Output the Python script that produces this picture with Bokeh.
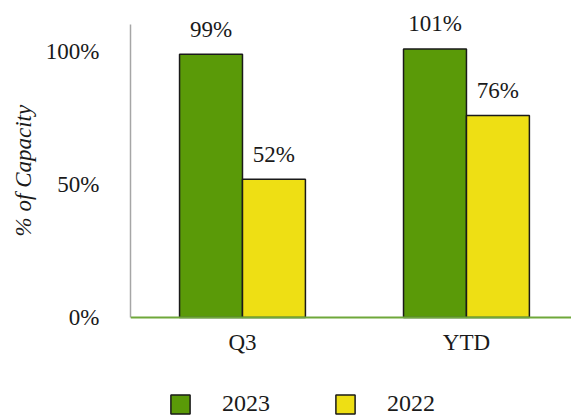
import numpy as np
from bokeh.plotting import figure
from bokeh.models import (FixedTicker, Legend, LegendItem, ColumnDataSource,
                          Range1d, Span)
from bokeh.core.properties import value
from bokeh.embed import file_html
from bokeh.resources import INLINE

categories = ["Q3", "YTD"]
series_names = ["2023", "2022"]
values_2023 = [99, 101]
values_2022 = [52, 76]
y_ticks = [0, 50, 100]
y_tick_labels = ["0%", "50%", "100%"]
y_axis_top = 110.2
y_title = "% of Capacity"

GREEN = "#5a9a08"
YELLOW = "#eedf14"
FONT = "Liberation Serif"
TXT = "#1a1a1a"
FS = "23px"

p = figure(width=571, height=415, output_backend="svg", toolbar_location=None,
           x_range=Range1d(0, 1.969), y_range=Range1d(-36.8, 119.2),
           min_border_left=130, min_border_right=0, min_border_top=0,
           min_border_bottom=0)
p.outline_line_color = None
p.xgrid.visible = False
p.ygrid.visible = False
p.xaxis.visible = False

pos = np.arange(len(categories)) + 0.5
bw = 0.281
src23 = ColumnDataSource(dict(x=pos - bw / 2, top=values_2023,
                              lab=[f"{v}%" for v in values_2023]))
src22 = ColumnDataSource(dict(x=pos + bw / 2, top=values_2022,
                              lab=[f"{v}%" for v in values_2022]))

r23 = p.vbar(x="x", top="top", width=bw, source=src23, fill_color=GREEN,
             line_color=TXT, line_width=1.5)
r22 = p.vbar(x="x", top="top", width=bw, source=src22, fill_color=YELLOW,
             line_color=TXT, line_width=1.5)

for s in (src23, src22):
    p.text(x="x", y="top", text="lab", source=s, text_align="center",
           text_baseline="alphabetic", y_offset=-25, text_font=value(FONT),
           text_font_size=FS, text_color=TXT)

# x axis: line at zero plus category labels
p.add_layout(Span(location=0, dimension="width", line_color="#6fa83a",
                  line_width=2))
p.text(x=pos, y=[0] * len(pos), text=categories, text_align="center",
       text_baseline="alphabetic", y_offset=25, text_font=value(FONT),
       text_font_size=FS, text_color=TXT)

# y axis
p.yaxis.ticker = FixedTicker(ticks=y_ticks)
p.yaxis.bounds = (0, y_axis_top)
p.yaxis.major_label_overrides = {t: l for t, l in zip(y_ticks, y_tick_labels)}
p.yaxis.axis_line_color = "#a6a6a6"
p.yaxis.axis_line_width = 1.5
p.yaxis.major_tick_line_color = None
p.yaxis.minor_tick_line_color = None
p.yaxis.major_label_text_font = FONT
p.yaxis.major_label_text_font_size = FS
p.yaxis.major_label_text_color = TXT
p.yaxis.major_label_standoff = 25
# leading no-break spaces lift the title so it is centred on the drawn axis
p.yaxis.axis_label = "\u00a0" * 13 + y_title
p.yaxis.axis_label_text_font = FONT
p.yaxis.axis_label_text_font_style = "italic"
p.yaxis.axis_label_text_font_size = "23px"
p.yaxis.axis_label_text_color = TXT
p.yaxis.axis_label_standoff = 7

legend = Legend(items=[LegendItem(label=series_names[0], renderers=[r23]),
                       LegendItem(label=series_names[1], renderers=[r22])],
                orientation="horizontal", location=(38, -2),
                glyph_width=24, glyph_height=24, label_standoff=30, spacing=63,
                padding=0, margin=0, border_line_alpha=0, background_fill_alpha=0,
                label_text_font=FONT, label_text_font_size="24px",
                label_text_color=TXT)
p.add_layout(legend)

open("out.html", "w").write(file_html(p, INLINE))
